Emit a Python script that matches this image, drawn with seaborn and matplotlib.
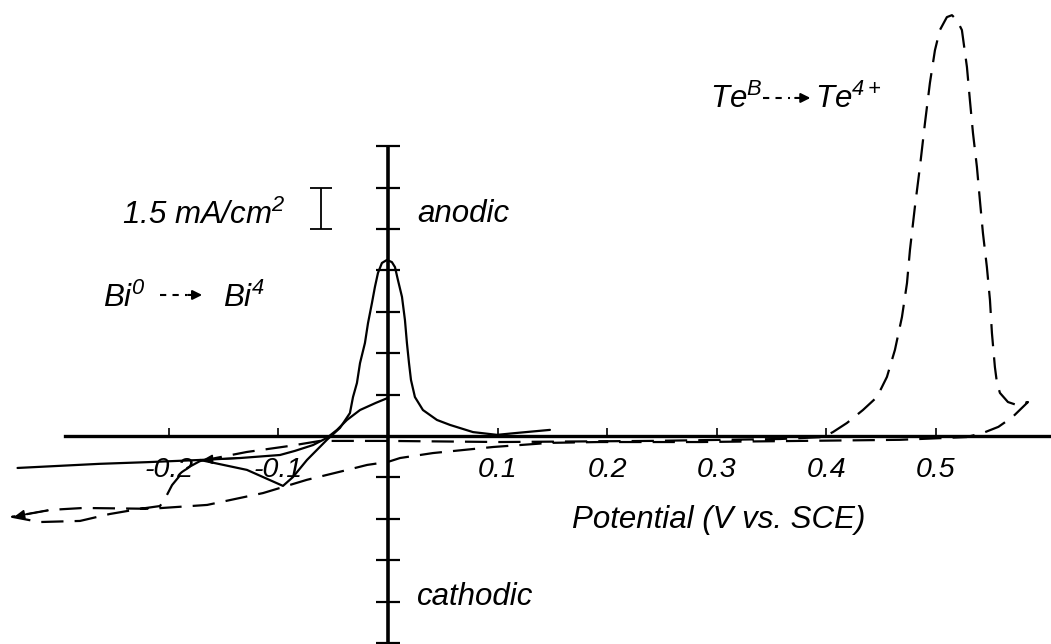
import numpy as np
import pandas as pd
import matplotlib
matplotlib.use("Agg")
import matplotlib.pyplot as plt
import seaborn as sns

# potential in V vs SCE, current density in mA/cm2 (one axis tick = 1.5 mA/cm2)
# Bi film, solid trace: cathodic sweep leftwards from 0 V
bi_sweep_v = [0.0, -0.011, -0.0255, -0.0374, -0.0465, -0.0557, -0.0684, -0.0848, -0.0985,
              -0.135, -0.1715, -0.22, -0.263, -0.338]
bi_sweep_i = [1.38, 1.20, 0.94, 0.58, 0.22, -0.07, -0.33, -0.54, -0.69,
              -0.80, -0.87, -0.95, -1.01, -1.16]

# Bi film, solid trace: loop through the cusp and the stripping peak
bi_strip_v = [-0.1715, -0.1287, -0.0958, -0.0867, -0.0739, -0.0557, -0.0438, -0.0347, -0.0319,
              -0.0283, -0.0255, -0.0210, -0.0182, -0.0146, -0.0119, -0.0091, -0.0055, -0.0009,
              0.0036, 0.0064, 0.0091, 0.0128, 0.0155, 0.0173, 0.0192, 0.0210, 0.0246, 0.0319,
              0.0447, 0.0566, 0.0776, 0.0995, 0.1177, 0.1478]
bi_strip_i = [-0.87, -1.23, -1.81, -1.49, -0.87, -0.14, 0.29, 0.83, 1.41,
              1.92, 2.64, 3.37, 4.09, 4.82, 5.40, 5.91, 6.27, 6.38,
              6.30, 6.12, 5.65, 5.04, 4.20, 3.37, 2.64, 2.03, 1.41, 0.94,
              0.58, 0.40, 0.14, 0.04, 0.11, 0.22]

# BiTe film, dashed trace (full cycle)
bite_v = [-0.1715, -0.1287, -0.0894, -0.062, 0.0, 0.102, 0.239, 0.358, 0.3969, 0.4060, 0.4188,
          0.4334, 0.4462, 0.4553, 0.4626, 0.4690, 0.4736, 0.4763, 0.4808, 0.4854, 0.4900,
          0.4945, 0.4991, 0.5036, 0.5100, 0.5146, 0.5192, 0.5237, 0.5283, 0.5310, 0.5338,
          0.5374, 0.5401, 0.5429, 0.5465, 0.5493, 0.5511, 0.5538, 0.5557, 0.5584, 0.5657,
          0.5739, 0.584,
          0.570, 0.557, 0.543, 0.528, 0.467, 0.376, 0.285, 0.193, 0.148, 0.096, 0.041,
          0.011, 0.0, -0.019, -0.037, -0.074, -0.114, -0.165, -0.217, -0.278, -0.308, -0.343,
          -0.318, -0.281, -0.254, -0.226, -0.208, -0.2026, -0.197, -0.185, -0.1715]
bite_i = [-0.91, -0.58, -0.36, -0.18, -0.18, -0.22, -0.18, -0.11, -0.04, 0.14, 0.47,
          0.94, 1.41, 2.14, 3.12, 4.31, 5.54, 6.74, 8.30, 9.75, 11.34,
          12.79, 13.98, 14.71, 15.18, 15.25, 15.07, 14.71, 13.37, 12.17, 10.98,
          9.75, 8.55, 7.35, 6.12, 4.93, 3.73, 2.50, 1.92, 1.56, 1.23,
          1.12, 1.23,
          0.69, 0.33, 0.11, -0.04, -0.14, -0.18, -0.22, -0.22, -0.25, -0.40, -0.62,
          -0.80, -0.94, -1.05, -1.23, -1.59, -2.07, -2.50, -2.64, -2.61, -2.68, -2.93,
          -3.12, -3.08, -2.83, -2.64, -2.54, -2.21, -1.78, -1.20, -0.91]

x_ticks = [-0.2, -0.1, 0.1, 0.2, 0.3, 0.4, 0.5]
x_tick_labels = ["-0.2", "-0.1", "0.1", "0.2", "0.3", "0.4", "0.5"]
y_ticks = [-7.5, -6.0, -4.5, -3.0, -1.5, 1.5, 3.0, 4.5, 6.0, 7.5, 9.0, 10.5]

sns.set_style("white")
plt.rcParams["font.family"] = ["Liberation Sans", "DejaVu Sans"]
plt.rcParams["mathtext.fontset"] = "custom"
plt.rcParams["mathtext.rm"] = "Liberation Sans:italic"
plt.rcParams["mathtext.it"] = "Liberation Sans:italic"

bi_a = pd.DataFrame({"V": bi_sweep_v, "I": bi_sweep_i})
bi_b = pd.DataFrame({"V": bi_strip_v, "I": bi_strip_i})
bite = pd.DataFrame({"V": bite_v, "I": bite_i})

fig = plt.figure(figsize=(10.51, 6.44), dpi=100)
ax = fig.add_axes([0, 0, 1, 1])

dash = (0, (10, 5))
line_kw = dict(sort=False, estimator=None, color="black", lw=1.6, ax=ax,
               solid_joinstyle="round", solid_capstyle="round")
sns.lineplot(data=bi_a, x="V", y="I", **line_kw)
sns.lineplot(data=bi_b, x="V", y="I", **line_kw)
sns.lineplot(data=bite, x="V", y="I", sort=False, estimator=None, color="black", lw=1.6,
             linestyle=dash, dash_joinstyle="round", ax=ax)

# sweep direction arrowheads (left turning point of the dashed scan, Bi sweep)
tip = bite_v.index(min(bite_v))
ax.annotate("", xy=(bite_v[tip], bite_i[tip]), xytext=(bite_v[tip - 1], bite_i[tip - 1]),
            arrowprops=dict(arrowstyle="-|>", color="black", lw=1.2, mutation_scale=14))
ax.annotate("", xy=(bi_sweep_v[10], bi_sweep_i[10]), xytext=(bi_sweep_v[9], bi_sweep_i[9]),
            arrowprops=dict(arrowstyle="-|>", color="black", lw=1.2, mutation_scale=14))

ax.set_xlim(-0.354, 0.605)
ax.set_ylim(-7.54, 15.8)

for s in ["top", "right"]:
    ax.spines[s].set_visible(False)
ax.spines["left"].set_position(("data", 0))
ax.spines["bottom"].set_position(("data", 0))
ax.spines["left"].set_bounds(-7.6, 10.47)
ax.spines["bottom"].set_bounds(-0.295, 0.605)
ax.spines["left"].set_linewidth(2.6)
ax.spines["bottom"].set_linewidth(2.4)
ax.spines["left"].set_color("black")
ax.spines["bottom"].set_color("black")

ax.set_xticks(x_ticks)
ax.set_xticklabels(x_tick_labels, fontsize=20.5, style="italic")
ax.set_yticks(y_ticks)
ax.tick_params(axis="x", bottom=True, direction="in", length=6, width=1.2, pad=15, colors="black")
ax.tick_params(axis="y", left=True, direction="inout", length=17, width=1.6, labelleft=False,
               colors="black")
ax.set_xlabel("")
ax.set_ylabel("")

# scale bar
ax.errorbar([-0.0611], [8.25], yerr=[0.75], color="black", lw=1.3, capsize=8, capthick=1.3)

txt = dict(fontsize=22.5, style="italic", color="black", va="baseline", ha="left")
ax.text(-0.2427, 7.68, "1.5 mA/cm$^2$", **txt)
ax.text(0.0265, 7.75, "anodic", **txt)
ax.text(0.0265, -6.12, "cathodic", **txt)
ax.text(0.1679, -3.33, "Potential (V vs. SCE)", **txt)
ax.text(-0.260, 4.67, "Bi$^0$", **txt)
ax.text(-0.1505, 4.67, "Bi$^4$", **txt)
ax.text(0.2938, 11.88, "Te$^B$", **txt)
ax.text(0.3896, 11.88, "Te$^{4+}$", **txt)

# dashed reaction arrows
ax.plot([-0.208, -0.183], [5.11, 5.11], color="black", lw=1.5, linestyle=(0, (3, 3)))
ax.annotate("", xy=(-0.167, 5.11), xytext=(-0.185, 5.11),
            arrowprops=dict(arrowstyle="-|>", color="black", lw=1.5, mutation_scale=14))
ax.plot([0.342, 0.367], [12.25, 12.25], color="black", lw=1.5, linestyle=(0, (3, 3)))
ax.annotate("", xy=(0.388, 12.25), xytext=(0.369, 12.25),
            arrowprops=dict(arrowstyle="-|>", color="black", lw=1.5, mutation_scale=14))

fig.savefig("out.png", dpi=100)
plt.close(fig)
